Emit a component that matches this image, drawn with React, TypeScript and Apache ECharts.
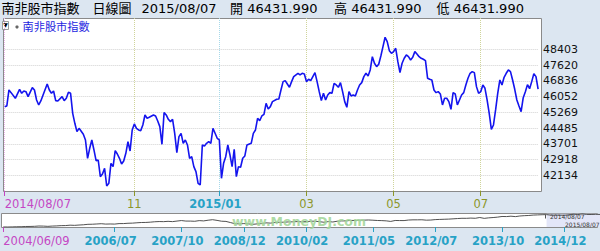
import React, { useEffect, useRef } from 'react';
import * as echarts from 'echarts';

// ---------------- data ----------------
const seriesName = '南非股市指數';
const headerItems = ['南非股市指數', '日線圖', '2015/08/07', '開 46431.990', '高 46431.990', '低 46431.990'];

const sessionStart = '2014/08/07';
const sessionEnd = '2015/08/07';
const marketHolidays = [
  '2014/09/24', '2014/12/16', '2014/12/25', '2014/12/26', '2015/01/01',
  '2015/04/03', '2015/04/06', '2015/04/27', '2015/05/01', '2015/06/16',
];

// index of the trading day (0 = 2014/08/07) for each value
const sampleDay = [
  0, 1, 2, 3, 5, 7, 8, 9, 10, 11, 13, 14, 15, 16, 17, 20, 21, 22, 23, 24, 25, 27, 28, 29, 30, 31,
  32, 33, 34, 35, 37, 38, 39, 40, 41, 42, 43, 44, 45, 46, 47, 48, 49, 50, 51, 52, 53, 54, 55, 56,
  57, 58, 59, 60, 61, 62, 63, 64, 65, 66, 67, 68, 70, 71, 72, 73, 74, 75, 76, 77, 78, 79, 80, 81,
  82, 83, 84, 85, 86, 87, 88, 89, 90, 91, 92, 93, 94, 95, 96, 97, 98, 99, 100, 101, 102, 103, 104,
  105, 106, 107, 108, 109, 110, 111, 112, 113, 114, 116, 117, 118, 119, 120, 121, 122, 123, 124,
  125, 126, 128, 129, 130, 131, 132, 133, 134, 135, 136, 138, 139, 140, 141, 142, 143, 144, 145,
  146, 147, 148, 149, 150, 151, 152, 153, 154, 155, 156, 157, 158, 159, 160, 161, 162, 163, 164,
  165, 166, 167, 168, 169, 170, 171, 172, 173, 174, 175, 176, 177, 178, 179, 180, 181, 182, 183,
  184, 185, 186, 187, 188, 189, 190, 191, 192, 193, 194, 195, 196, 197, 198, 199, 200, 201, 202,
  203, 204, 205, 206, 207, 208, 209, 210, 211, 212, 213, 214, 215, 216, 217, 218, 219, 220, 221,
  222, 223, 224, 225, 226, 227, 228, 229, 230, 231, 232, 233, 234, 235, 236, 237, 238, 239, 240,
  241, 242, 243, 244, 245, 246, 247, 248, 249, 250, 251,
];
const closes = [
  45554, 45587, 46385, 46252, 45970, 46418, 46219, 46335, 46301, 46052, 46501, 46385, 45886, 45637, 45836, 46684, 46385, 46219, 46335, 45853, 45836, 46052, 45853, 45970, 46268, 46219,
  45222, 44724, 44308, 44474, 44176, 43893, 42980, 43478, 43893, 43395, 42863, 42896, 42066, 42199, 42481, 41601, 41734, 42730, 42564, 43361, 43195, 42980, 42697, 42847,
  43229, 43810, 43345, 44391, 44690, 44474, 44391, 44358, 44640, 45139, 44973, 45023, 45139, 45089, 44840, 44557, 43677, 45255, 45139, 44923, 44806, 44923, 44225, 43262,
  44059, 44225, 43727, 43893, 43644, 42980, 43062, 42564, 42315, 41734, 41651, 43644, 43594, 43727, 43810, 43727, 44474, 44225, 43976, 43893, 41983, 42730, 43062,
  43644, 43146, 42564, 43428, 42066, 42564, 42531, 42980, 43096, 43644, 43727, 44225, 44391, 44973, 44856, 45089, 45172, 45720, 45438,
  45554, 45803, 45920, 45936, 46385, 46800, 46850, 46684, 46517, 46800, 47049, 47215, 47132, 47215, 47182, 46800, 46916, 46850, 47049,
  47248, 46800, 46301, 45853, 46219, 45886, 46135, 46252, 46219, 46717, 46634, 46517, 46750, 46301, 45803, 45521, 46301, 46086, 46135,
  46086, 46385, 46634, 46750, 47049, 47215, 47082, 47381, 48045, 47714, 47547, 47664, 48079, 48544, 49009, 48793, 48344, 48212, 48295,
  48461, 47796, 47248, 47714, 47963, 48129, 48045, 47879, 48012, 48295, 48178, 48045, 47963, 47913, 47846, 46966, 46916, 46883, 46385,
  46252, 46301, 46185, 45637, 45970, 45970, 45803, 45421, 46252, 46185, 45637, 45886, 46135, 46252, 46634, 46966, 47215, 47298, 47248,
  46551, 46219, 46301, 46634, 46468, 45886, 45222, 44425, 44640, 45388, 46219, 46883, 46634, 47016, 47215, 47381, 47298, 46883, 46418,
  45886, 45587, 45305, 46000, 46300, 46650, 46450, 46800, 47200, 47049, 46432,
];

// right-axis tick labels: 42134, 42918, ... 48403
const yTickBase = 42134.05;
const yTickStep = 783.65;
const yTickCount = 9;

const monthTickLabels = ['2014/11', '2015/01', '2015/03', '2015/05', '2015/07'];

// long-term navigator (monthly, 2004/06 .. 2015/08)
const navStartMonth = '2004/06';
const navValues = [
  9800, 9700, 10000, 10400, 10500, 11200, 11300,
  11700, 12600, 12300, 11600, 12400, 12900, 13700, 13900, 15000, 14500, 15400, 16200,
  17500, 17800, 18500, 19300, 18200, 18500, 18200, 19600, 19700, 20600, 21000, 22000,
  22800, 23000, 23800, 25000, 25600, 25300, 26200, 25400, 27000, 28500, 27000, 26900,
  26400, 28300, 27500, 29500, 31000, 29000, 26600, 26000, 22700, 19400, 18900, 19700,
  18900, 17400, 18800, 19800, 21800, 21000, 22800, 23500, 23700, 24500, 24800, 25500,
  24700, 25400, 26400, 26700, 25100, 23600, 25500, 24300, 26600, 27500, 27500, 29000,
  28600, 29500, 29700, 30200, 29500, 28700, 28300, 27600, 26000, 28700, 28500, 28400,
  30000, 30600, 30600, 30800, 29600, 30000, 31300, 31800, 32300, 32700, 33500, 34400,
  35100, 35000, 35700, 35100, 37400, 34900, 36400, 37300, 38500, 40400, 40100, 41200,
  40000, 41800, 42700, 43300, 44500, 45000, 45500, 45800, 44200, 44400, 44200, 44000,
  45100, 47200, 46100, 48200, 46400, 46200, 46700, 46400,
];
const navTickLabels = ['2004/06/09', '2006/07', '2007/10', '2008/12', '2010/02', '2011/05', '2012/07', '2013/10', '2014/12'];
const navWindow = ['2014/08', '2015/08'];
const navWindowLabels = ['2014/08/07', '2015/08/07'];
const watermark = 'www.MoneyDJ.com';

// ---------------- helpers ----------------
const pad = (n: number) => (n < 10 ? '0' + n : String(n));
const fmt = (d: Date) => `${d.getUTCFullYear()}/${pad(d.getUTCMonth() + 1)}/${pad(d.getUTCDate())}`;
const parse = (s: string) => {
  const [y, m, d] = s.split('/').map(Number);
  return new Date(Date.UTC(y, m - 1, d));
};

function buildTradingDays(): string[] {
  const out: string[] = [];
  const d = parse(sessionStart);
  const end = parse(sessionEnd).getTime();
  while (d.getTime() <= end) {
    const wd = d.getUTCDay();
    const s = fmt(d);
    if (wd !== 0 && wd !== 6 && !marketHolidays.includes(s)) out.push(s);
    d.setUTCDate(d.getUTCDate() + 1);
  }
  return out;
}

function buildNavMonths(): string[] {
  const [y0, m0] = navStartMonth.split('/').map(Number);
  return navValues.map((_, i) => {
    const t = (m0 - 1) + i;
    return `${y0 + Math.floor(t / 12)}/${pad((t % 12) + 1)}`;
  });
}

const BG = '#dce6f1';
const PINK = '#c447c4';
const OLIVE = '#8c962a';
const TEAL = '#27a2c6';
const FONT = '"DejaVu Sans", "Noto Sans CJK TC", sans-serif';

export default function App() {
  const ref = useRef<HTMLDivElement>(null);

  useEffect(() => {
    if (!ref.current) return;
    const chart = echarts.init(ref.current, undefined, { renderer: 'svg' });

    const days = buildTradingDays();
    const navMonths = buildNavMonths();

    const isMonthTick = (i: number) =>
      i > 0 && days[i].slice(0, 7) !== days[i - 1].slice(0, 7) && monthTickLabels.includes(days[i].slice(0, 7));
    const pinkTick = (i: number) => i === 0;
    const tealTick = (i: number) => isMonthTick(i) && days[i].slice(5, 7) === '01';
    const oliveTick = (i: number) => isMonthTick(i) && days[i].slice(5, 7) !== '01';

    const mainX = (
      fn: (i: number) => boolean,
      color: string,
      splitColor: string,
      formatter: (v: string) => string,
      extra: any = {},
    ) => ({
      type: 'category',
      gridIndex: 0,
      data: days,
      boundaryGap: false,
      position: 'bottom',
      axisLine: { show: false, onZero: false },
      axisTick: { show: true, interval: (i: number) => fn(i), length: 5, lineStyle: { color, width: 1 } },
      axisLabel: {
        show: true,
        interval: (i: number) => fn(i),
        formatter,
        color,
        fontFamily: FONT,
        fontSize: 11.5,
        margin: 7,
        ...extra,
      },
      splitLine: { show: true, interval: (i: number) => fn(i), lineStyle: { color: splitColor, type: 'dotted', width: 1 } },
    });

    const navPink = (i: number) => i === 0;
    const navTeal = (i: number) => i > 0 && navTickLabels.slice(1).includes(navMonths[i]);
    const navX = (fn: (i: number) => boolean, color: string, formatter: (v: string) => string, extra: any = {}) => ({
      type: 'category',
      gridIndex: 1,
      data: navMonths,
      boundaryGap: false,
      position: 'bottom',
      axisLine: { show: false, onZero: false },
      axisTick: { show: true, interval: (i: number) => fn(i), length: 5, lineStyle: { color, width: 1 } },
      axisLabel: {
        show: true,
        interval: (i: number) => fn(i),
        formatter,
        color,
        fontFamily: FONT,
        fontSize: 11.5,
        margin: 8,
        ...extra,
      },
      splitLine: { show: false },
    });

    const transparent = 'rgba(0,0,0,0)';
    const gridColors = [transparent];
    for (let k = 0; k < yTickCount; k++) gridColors.push('#d2d2d2');
    gridColors.push(transparent, transparent);

    const option: any = {
      animation: false,
      backgroundColor: BG,
      textStyle: { fontFamily: FONT },
      grid: [
        { left: 4.7, top: 18, width: 533.4, height: 173, outerBoundsMode: 'none', containLabel: false },
        { left: 3.3, top: 213.8, width: 596.7, height: 13.2, outerBoundsMode: 'none', containLabel: false },
      ],
      xAxis: [
        mainX(pinkTick, PINK, '#eab4ea', (v) => v, { align: 'left' }),
        mainX(oliveTick, OLIVE, '#cfd49a', (v) => v.slice(5, 7)),
        mainX(tealTick, TEAL, '#a6d9ea', (v) => v.slice(0, 7), { fontWeight: 'bold', padding: [0, 8, 0, 0] }),
        navX(navPink, PINK, () => navTickLabels[0], { align: 'left' }),
        navX(navTeal, TEAL, (v) => v, { fontWeight: 'bold', padding: [0, 8, 0, 0] }),
      ],
      yAxis: [
        {
          type: 'value',
          gridIndex: 0,
          position: 'right',
          min: -1,
          max: 10,
          interval: 1,
          axisLine: { show: false },
          axisTick: { show: false },
          axisLabel: {
            color: '#111',
            fontFamily: FONT,
            fontSize: 11,
            margin: 5,
            formatter: (v: number) =>
              v < -0.5 || v > yTickCount - 0.5 ? '' : String(Math.round(yTickBase + v * yTickStep)),
          },
          splitLine: { show: true, lineStyle: { color: gridColors, type: 'dotted', width: 1 } },
        },
        { type: 'value', gridIndex: 1, show: false, min: 'dataMin', max: 'dataMax', splitLine: { show: false } },
      ],
      series: [
        {
          name: seriesName,
          type: 'line',
          xAxisIndex: 0,
          yAxisIndex: 0,
          showSymbol: false,
          symbol: 'none',
          lineStyle: { color: '#1414ee', width: 1.6 },
          data: sampleDay.map((d, k) => [d, (closes[k] - yTickBase) / yTickStep]),
          z: 3,
        },
        {
          type: 'line',
          xAxisIndex: 3,
          yAxisIndex: 1,
          showSymbol: false,
          symbol: 'none',
          lineStyle: { color: '#3c3c3c', width: 0.9 },
          data: navValues,
          markArea: {
            silent: true,
            itemStyle: { color: '#e3e6f8' },
            data: [[{ xAxis: navWindow[0] }, { xAxis: navWindow[1] }]],
          },
          z: 3,
        },
      ],
      graphic: [
        { type: 'rect', z: -1, shape: { x: 3.5, y: 18.5, width: 538, height: 173 }, style: { fill: '#ffffff', stroke: '#8a8a8a', lineWidth: 1 } },
        { type: 'rect', z: -1, shape: { x: 1.5, y: 213.5, width: 596, height: 14 }, style: { fill: '#ffffff', stroke: '#8a8a8a', lineWidth: 1 } },
        // header
        ...headerItems.map((t, i) => ({
          type: 'text',
          x: [1.5, 92.5, 141.5, 230, 334, 436.5][i],
          y: 8.5,
          style: { text: t, font: `13px ${FONT}`, fill: '#000', textVerticalAlign: 'middle' },
        })),
        // legend
        { type: 'rect', shape: { x: 2.5, y: 21.5, width: 6, height: 8 }, style: { fill: '#fff', stroke: '#999', lineWidth: 1 } },
        { type: 'text', x: 5.5, y: 24.5, style: { text: '▼', font: `6px ${FONT}`, fill: '#000', textAlign: 'center', textVerticalAlign: 'middle' } },
        { type: 'circle', shape: { cx: 17, cy: 27, r: 1.6 }, style: { fill: '#666' } },
        { type: 'text', x: 22.5, y: 27, style: { text: seriesName, font: `11.2px ${FONT}`, fill: '#1d1de0', textVerticalAlign: 'middle' } },
        // watermark
        {
          type: 'text', x: 299, y: 221, z: 5,
          style: { text: watermark, font: `bold 12.5px ${FONT}`, fill: '#a3d69a', textAlign: 'center', textVerticalAlign: 'middle', opacity: 0.9 },
        },
        // navigator window labels
        { type: 'line', z: 5, shape: { x1: 545.5, y1: 215, x2: 545.5, y2: 218.5 }, style: { stroke: '#555', lineWidth: 1 } },
        { type: 'text', x: 550, y: 216, z: 5, style: { text: navWindowLabels[0], font: `6px ${FONT}`, fill: '#333', textVerticalAlign: 'middle' } },
        { type: 'text', x: 565, y: 224, z: 5, style: { text: navWindowLabels[1], font: `6px ${FONT}`, fill: '#333', textVerticalAlign: 'middle' } },
      ],
    };

    chart.setOption(option);
    return () => chart.dispose();
  }, []);

  return <div ref={ref} style={{ position: 'absolute', left: 0, top: 0, width: 600, height: 251 }} />;
}
